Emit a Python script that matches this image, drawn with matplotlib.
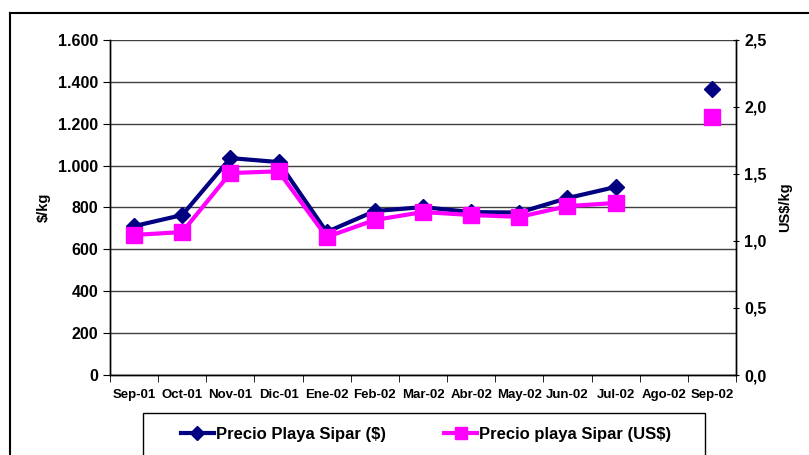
import matplotlib.pyplot as plt
import numpy as np
from matplotlib.lines import Line2D
from matplotlib.patches import Rectangle
from matplotlib.ticker import FuncFormatter, FixedLocator

plt.rcParams["font.family"] = ["Liberation Sans", "DejaVu Sans"]
plt.rcParams["font.weight"] = "bold"

months = ["Sep-01", "Oct-01", "Nov-01", "Dic-01", "Ene-02", "Feb-02", "Mar-02",
          "Abr-02", "May-02", "Jun-02", "Jul-02", "Ago-02", "Sep-02"]
precio_pesos = [711, 764, 1036, 1017, 683, 783, 802, 778, 776, 845, 898, np.nan, 1366]
precio_usd = [1.045, 1.067, 1.507, 1.52, 1.03, 1.157, 1.216, 1.194, 1.18, 1.26, 1.284, np.nan, 1.925]

navy = "#000080"
magenta = "#FF00FF"

fig = plt.figure(figsize=(8.09, 4.55), dpi=100)
W, H = 809, 455
ax = fig.add_axes([110 / W, 1 - 375 / H, (736 - 110) / W, (375 - 40) / H])
ax2 = ax.twinx()

x = np.arange(len(months))

ax.plot(x, precio_pesos, color=navy, lw=3, marker="D", ms=8, zorder=4)
ax2.plot(x, precio_usd, color=magenta, lw=3, marker="s", ms=11, zorder=3)

ax.set_xlim(-0.5, len(months) - 0.5)
ax.set_ylim(0, 1600)
ax2.set_ylim(0, 2.5)

ax.set_yticks(np.arange(0, 1601, 200))
ax.yaxis.set_major_formatter(FuncFormatter(lambda v, p: f"{int(v):,}".replace(",", ".")))
ax2.set_yticks(np.arange(0, 2.51, 0.5))
ax2.yaxis.set_major_formatter(FuncFormatter(lambda v, p: f"{v:.1f}".replace(".", ",")))

ax.set_xticks(x)
ax.set_xticklabels(months, fontsize=9.5, fontweight="bold")
ax.xaxis.set_minor_locator(FixedLocator(np.arange(-0.5, len(months), 1.0)))
ax.tick_params(axis="x", which="major", length=0, pad=10)
ax.tick_params(axis="x", which="minor", length=5, direction="out", color="black")
ax.tick_params(axis="y", length=5, direction="out", labelsize=11.5)
ax2.tick_params(axis="y", length=5, direction="inout", labelsize=11.5)
for lab in ax.get_yticklabels() + ax2.get_yticklabels():
    lab.set_fontweight("bold")

ax.grid(axis="y", color="#404040", lw=1)
ax.set_axisbelow(True)
ax.set_facecolor("none")

ax.set_ylabel("$/kg", fontsize=10.5, fontweight="bold", labelpad=5)
ax2.set_ylabel("US$/kg", fontsize=10.5, fontweight="bold", labelpad=8)

for a in (ax, ax2):
    a.spines["top"].set_visible(False)
    for s in ("left", "right", "bottom"):
        a.spines[s].set_color("black")
        a.spines[s].set_linewidth(1)

# outer chart frame
fig.add_artist(Line2D([10 / W, 10 / W], [0, 1 - 13 / H], color="black", lw=1.5))
fig.add_artist(Line2D([10 / W, 1], [1 - 13 / H, 1 - 13 / H], color="black", lw=1.5))

# legend box
fig.add_artist(Rectangle((143 / W, -0.05), (705 - 143) / W, 0.05 + 1 - 413 / H,
                         fill=False, edgecolor="black", lw=1))
handles = [
    Line2D([], [], color=navy, lw=3, marker="D", ms=7),
    Line2D([], [], color=magenta, lw=3, marker="s", ms=9),
]
fig.legend(handles, ["Precio Playa Sipar ($)", "Precio playa Sipar (US$)"],
           loc="center", bbox_to_anchor=(426 / W, 1 - 434 / H), ncol=2,
           frameon=False, handlelength=2.0, handletextpad=0.1,
           columnspacing=3.5, prop={"weight": "bold", "size": 12})

fig.savefig("out.png", dpi=100)
